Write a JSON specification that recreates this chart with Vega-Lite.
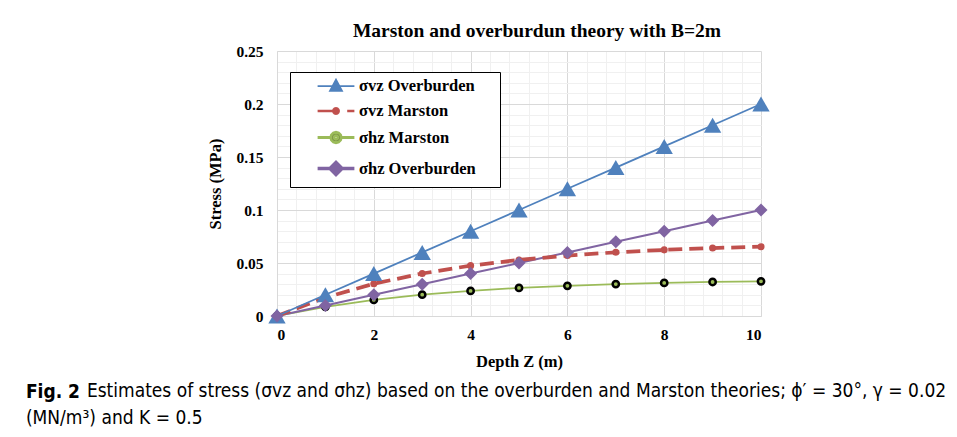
{
  "$schema": "https://vega.github.io/schema/vega-lite/v6.json",
  "background": "white",
  "padding": {"left": 25, "top": 20, "right": 5, "bottom": 5},
  "title": {
    "text": "Fig. 2",
    "subtitle": "(MN/m³) and K = 0.5",
    "orient": "bottom",
    "anchor": "start",
    "font": "Liberation Sans Narrow, DejaVu Sans Condensed, sans-serif",
    "fontSize": 19,
    "fontWeight": "bold",
    "color": "#000",
    "subtitleFont": "Liberation Sans Narrow, DejaVu Sans Condensed, sans-serif",
    "subtitleFontSize": 19,
    "subtitleFontWeight": "normal",
    "subtitleColor": "#000",
    "subtitlePadding": 7,
    "offset": 0,
    "dx": -61,
    "dy": -18
  },
  "datasets": {
    "stress": [
      {"z": 0, "series": "σvz Overburden", "stress": 0},
      {"z": 1, "series": "σvz Overburden", "stress": 0.02},
      {"z": 2, "series": "σvz Overburden", "stress": 0.04},
      {"z": 3, "series": "σvz Overburden", "stress": 0.06},
      {"z": 4, "series": "σvz Overburden", "stress": 0.08},
      {"z": 5, "series": "σvz Overburden", "stress": 0.10},
      {"z": 6, "series": "σvz Overburden", "stress": 0.12},
      {"z": 7, "series": "σvz Overburden", "stress": 0.14},
      {"z": 8, "series": "σvz Overburden", "stress": 0.16},
      {"z": 9, "series": "σvz Overburden", "stress": 0.18},
      {"z": 10, "series": "σvz Overburden", "stress": 0.20},
      {"z": 0, "series": "σvz Marston", "stress": 0},
      {"z": 1, "series": "σvz Marston", "stress": 0.0174},
      {"z": 2, "series": "σvz Marston", "stress": 0.0304},
      {"z": 3, "series": "σvz Marston", "stress": 0.0401},
      {"z": 4, "series": "σvz Marston", "stress": 0.0475},
      {"z": 5, "series": "σvz Marston", "stress": 0.0529},
      {"z": 6, "series": "σvz Marston", "stress": 0.0570},
      {"z": 7, "series": "σvz Marston", "stress": 0.0601},
      {"z": 8, "series": "σvz Marston", "stress": 0.0624},
      {"z": 9, "series": "σvz Marston", "stress": 0.0641},
      {"z": 10, "series": "σvz Marston", "stress": 0.0654},
      {"z": 0, "series": "σhz Marston", "stress": 0},
      {"z": 1, "series": "σhz Marston", "stress": 0.0087},
      {"z": 2, "series": "σhz Marston", "stress": 0.0152},
      {"z": 3, "series": "σhz Marston", "stress": 0.0201},
      {"z": 4, "series": "σhz Marston", "stress": 0.0237},
      {"z": 5, "series": "σhz Marston", "stress": 0.0265},
      {"z": 6, "series": "σhz Marston", "stress": 0.0285},
      {"z": 7, "series": "σhz Marston", "stress": 0.0301},
      {"z": 8, "series": "σhz Marston", "stress": 0.0312},
      {"z": 9, "series": "σhz Marston", "stress": 0.0321},
      {"z": 10, "series": "σhz Marston", "stress": 0.0327},
      {"z": 0, "series": "σhz Overburden", "stress": 0},
      {"z": 1, "series": "σhz Overburden", "stress": 0.01},
      {"z": 2, "series": "σhz Overburden", "stress": 0.02},
      {"z": 3, "series": "σhz Overburden", "stress": 0.03},
      {"z": 4, "series": "σhz Overburden", "stress": 0.04},
      {"z": 5, "series": "σhz Overburden", "stress": 0.05},
      {"z": 6, "series": "σhz Overburden", "stress": 0.06},
      {"z": 7, "series": "σhz Overburden", "stress": 0.07},
      {"z": 8, "series": "σhz Overburden", "stress": 0.08},
      {"z": 9, "series": "σhz Overburden", "stress": 0.09},
      {"z": 10, "series": "σhz Overburden", "stress": 0.10}
    ]
  },
  "vconcat": [
    {
      "title": {
        "text": "Estimates of stress (σvz and σhz) based on the overburden and Marston theories; ϕ′ = 30°, γ = 0.02",
        "orient": "bottom",
        "anchor": "start",
        "font": "Liberation Sans Narrow, DejaVu Sans Condensed, sans-serif",
        "fontSize": 19,
        "fontWeight": "normal",
        "color": "#000",
        "offset": 12,
        "dx": -121
      },
      "vconcat": [
        {
          "width": 484,
          "height": 265,
          "data": {"name": "stress"},
          "title": {
            "text": "Marston and overburdun theory with B=2m",
            "font": "Liberation Serif",
            "fontSize": 19.5,
            "fontWeight": "bold",
            "color": "#000",
            "anchor": "middle",
            "dx": 18,
            "offset": 3
          },
          "encoding": {
            "x": {
              "field": "z",
              "type": "quantitative",
              "scale": {"domain": [0, 10], "nice": false, "zero": false},
              "axis": {
                "title": "Depth Z (m)",
                "values": [0, 0.4, 0.8, 1.2, 1.6, 2, 2.4, 2.8, 3.2, 3.6, 4, 4.4, 4.8, 5.2, 5.6, 6, 6.4, 6.8, 7.2, 7.6, 8, 8.4, 8.8, 9.2, 9.6, 10],
                "labelExpr": "datum.value % 2 === 0 ? datum.label : ''",
                "format": "~g",
                "gridColor": {"condition": {"test": "datum.value % 2 === 0", "value": "#d9d9d9"}, "value": "#f0f0f0"},
                "labelPadding": 11,
                "titlePadding": 11
              }
            },
            "y": {
              "field": "stress",
              "type": "quantitative",
              "scale": {"domain": [0, 0.25], "nice": false},
              "axis": {
                "title": "Stress (MPa)",
                "values": [0, 0.01, 0.02, 0.03, 0.04, 0.05, 0.06, 0.07, 0.08, 0.09, 0.1, 0.11, 0.12, 0.13, 0.14, 0.15, 0.16, 0.17, 0.18, 0.19, 0.2, 0.21, 0.22, 0.23, 0.24, 0.25],
                "labelExpr": "round(datum.value * 100) % 5 === 0 ? datum.label : ''",
                "format": "~g",
                "gridColor": {"condition": {"test": "round(datum.value * 100) % 5 === 0", "value": "#d9d9d9"}, "value": "#f0f0f0"},
                "labelPadding": 14,
                "titlePadding": 12
              }
            }
          },
          "layer": [
            {
              "transform": [{"filter": "datum.series === 'σhz Marston'"}],
              "mark": {"type": "line", "color": "#9bbb59", "strokeWidth": 1.75}
            },
            {
              "transform": [{"filter": "datum.series === 'σhz Overburden'"}],
              "mark": {"type": "line", "color": "#8064a2", "strokeWidth": 2}
            },
            {
              "transform": [{"filter": "datum.series === 'σvz Marston'"}],
              "mark": {"type": "line", "color": "#c0504d", "strokeWidth": 3.75, "strokeDash": [14, 7]}
            },
            {
              "transform": [{"filter": "datum.series === 'σvz Overburden'"}],
              "mark": {"type": "line", "color": "#4f81bd", "strokeWidth": 1.75}
            },
            {
              "transform": [{"filter": "datum.series === 'σvz Marston'"}],
              "mark": {"type": "point", "shape": "circle", "filled": true, "color": "#c0504d", "size": 50, "opacity": 1}
            },
            {
              "transform": [{"filter": "datum.series === 'σhz Marston'"}],
              "mark": {"type": "point", "shape": "circle", "filled": true, "fill": "#9bbb59", "stroke": "#000", "strokeWidth": 2.5, "size": 40, "opacity": 1}
            },
            {
              "transform": [{"filter": "datum.series === 'σvz Overburden'"}],
              "mark": {"type": "point", "shape": "triangle-up", "filled": true, "color": "#4f81bd", "size": 300, "opacity": 1}
            },
            {
              "transform": [{"filter": "datum.series === 'σhz Overburden'"}],
              "mark": {"type": "point", "shape": "diamond", "filled": true, "color": "#8064a2", "size": 170, "opacity": 1}
            },
            {
              "mark": {"type": "point", "filled": true, "size": 0, "opacity": 1},
              "encoding": {
                "shape": {
                  "field": "series",
                  "type": "nominal",
                  "scale": {
                    "domain": ["σvz Overburden", "σvz Marston", "σhz Marston", "σhz Overburden"],
                    "range": [
                      "M-2.3,0L2.3,0M0,-0.8L0.75,0.6L-0.75,0.6Z",
                      "M-2.3,0L0,0M1.4,0L2.3,0M0.35,0L0.303,0.175L0.175,0.303L0,0.35L-0.175,0.303L-0.303,0.175L-0.35,0L-0.303,-0.175L-0.175,-0.303L0,-0.35L0.175,-0.303L0.303,-0.175Z",
                      "M-2.3,0L-0.65,0M0.65,0L2.3,0M0.65,0L0.563,0.325L0.325,0.563L0,0.65L-0.325,0.563L-0.563,0.325L-0.65,0L-0.563,-0.325L-0.325,-0.563L0,-0.65L0.325,-0.563L0.563,-0.325ZM0.25,0L0.2165,-0.125L0.125,-0.2165L0,-0.25L-0.125,-0.2165L-0.2165,-0.125L-0.25,0L-0.2165,0.125L-0.125,0.2165L0,0.25L0.125,0.2165L0.2165,0.125Z",
                      "M-2.3,0L2.3,0M0,-0.75L0.75,0L0,0.75L-0.75,0Z"
                    ]
                  },
                  "legend": {
                    "title": "X",
                    "titleOrient": "right",
                    "titleColor": "#ffffff",
                    "titleFontSize": 12,
                    "titlePadding": 10,
                    "orient": "none",
                    "legendX": 13,
                    "legendY": 21,
                    "strokeColor": "#000",
                    "fillColor": "#fff",
                    "padding": 5,
                    "rowPadding": 6.5,
                    "symbolSize": 256,
                    "symbolOffset": 31,
                    "symbolOpacity": 1,
                    "labelOffset": 13,
                    "labelFont": "Liberation Serif",
                    "labelFontWeight": "bold",
                    "labelFontSize": 16.5,
                    "labelColor": "#000",
                    "labelLimit": 400
                  }
                },
                "fill": {
                  "field": "series",
                  "type": "nominal",
                  "scale": {
                    "domain": ["σvz Overburden", "σvz Marston", "σhz Marston", "σhz Overburden"],
                    "range": ["#4f81bd", "#c0504d", "#000000", "#8064a2"]
                  },
                  "legend": {"title": "X"}
                },
                "stroke": {
                  "field": "series",
                  "type": "nominal",
                  "scale": {
                    "domain": ["σvz Overburden", "σvz Marston", "σhz Marston", "σhz Overburden"],
                    "range": ["#4f81bd", "#c0504d", "#9bbb59", "#8064a2"]
                  },
                  "legend": {"title": "X"}
                },
                "strokeWidth": {
                  "field": "series",
                  "type": "nominal",
                  "scale": {
                    "domain": ["σvz Overburden", "σvz Marston", "σhz Marston", "σhz Overburden"],
                    "range": [1.75, 3.5, 1.2, 1.75]
                  },
                  "legend": {"title": "X"}
                }
              }
            }
          ]
        }
      ]
    }
  ],
  "config": {
    "view": {"stroke": null},
    "axis": {
      "labelFont": "Liberation Serif",
      "labelFontWeight": "bold",
      "labelFontSize": 15.5,
      "labelColor": "#000",
      "titleFont": "Liberation Serif",
      "titleFontWeight": "bold",
      "titleFontSize": 16.5,
      "titleColor": "#000",
      "ticks": false,
      "domainColor": "#d9d9d9",
      "gridOpacity": 1,
      "labelBound": false,
      "labelOverlap": false
    }
  }
}
